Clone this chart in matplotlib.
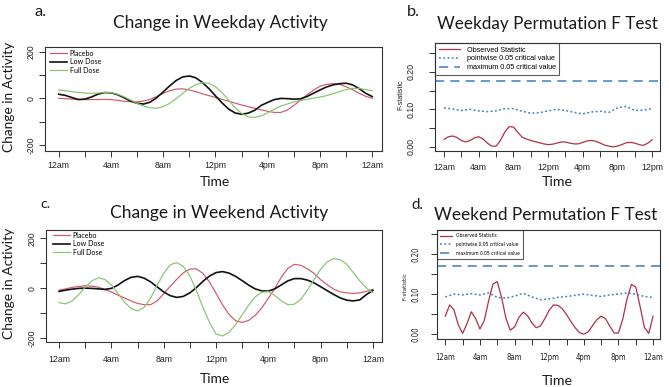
import matplotlib
matplotlib.use("Agg")
import matplotlib.pyplot as plt
from matplotlib import font_manager as fm

# ---------------- data ----------------
hours = list(range(25))
hours_half = [i * 0.5 for i in range(49)]
tick_hours = list(range(0, 25, 2))
labels_act = ["12am", "", "4am", "", "8am", "", "12pm", "", "4pm", "", "8pm", "", "12am"]
labels_b = ["12am", "", "4am", "", "8am", "", "12pm", "", "4pm", "", "8pm", "", "12pm"]
labels_d = ["12am", "", "4am", "", "8am", "", "12pm", "", "4pm", "", "8pm", "", "12am"]

series_names = ["Placebo", "Low Dose", "Full Dose"]
weekday_placebo = [0, -1, -3, -4, -5, -5, -5, -4, -5, -8,
                   -12, -14, -15, -11, -4, 8, 22, 33, 40, 41,
                   36, 29, 20, 12, 4, -4, -12, -20, -28, -35,
                   -42, -49, -55, -60, -60, -50, -30, -8, 15, 35,
                   52, 60, 63, 60, 50, 37, 22, 9, 0]
weekday_low = [18, 13, 4, -5, -3, 6, 18, 25, 24, 16,
               3, -11, -21, -24, -16, 3, 28, 54, 77, 92,
               96, 88, 68, 42, 11, -19, -45, -62, -68, -63,
               -51, -30, -17, -5, 0, -1, -3, -2, 8, 22,
               36, 49, 58, 63, 65, 58, 42, 22, 8]
weekday_full = [36, 33, 29, 25, 23, 22, 23, 25, 25, 18,
                7, -7, -21, -33, -40, -42, -35, -21, -1, 22,
                43, 59, 67, 65, 50, 25, -7, -39, -64, -79,
                -81, -75, -62, -46, -33, -24, -15, -9, -4, 1,
                6, 12, 20, 29, 38, 43, 43, 38, 33]

weekend_placebo = [-7, -2, 4, 8, 10, 9, 5, -5, -14, -27,
                   -38, -50, -60, -65, -65, -50, -22, 8, 36, 62,
                   77, 78, 60, 26, -19, -65, -104, -129, -136, -128,
                   -108, -78, -40, 0, 45, 80, 96, 92, 78, 60,
                   35, 15, -3, -14, -18, -20, -18, -12, -4]
weekend_low = [-12, -7, -3, 0, 1, 0, -2, -4, 0, 13,
               31, 44, 48, 41, 26, 6, -14, -29, -36, -32,
               -18, 3, 28, 49, 63, 67, 61, 48, 31, 13,
               -2, -10, -11, -2, 14, 30, 39, 39, 33, 22,
               7, -9, -24, -38, -47, -50, -46, -25, -8]
weekend_full = [-57, -62, -50, -25, 5, 30, 42, 36, 13, -20,
                -55, -80, -90, -76, -39, 12, 60, 94, 103, 88,
                50, -8, -75, -135, -182, -190, -175, -145, -106, -67,
                -34, -15, -13, -28, -50, -65, -63, -43, -7, 35,
                76, 106, 119, 114, 97, 63, 30, 2, -18]

weekday_observed = [0.020, 0.027, 0.029, 0.025, 0.017, 0.013, 0.017, 0.024, 0.027, 0.021,
                    0.010, 0.002, 0.002, 0.017, 0.039, 0.054, 0.053, 0.039, 0.026, 0.021,
                    0.017, 0.014, 0.011, 0.008, 0.006, 0.007, 0.010, 0.013, 0.013, 0.010,
                    0.008, 0.008, 0.012, 0.016, 0.017, 0.015, 0.010, 0.005, 0.002, 0.000,
                    0.002, 0.006, 0.011, 0.012, 0.010, 0.006, 0.004, 0.010, 0.019]
weekday_pointwise = [0.104, 0.101, 0.097, 0.100, 0.096, 0.094, 0.096, 0.102, 0.102, 0.095,
                     0.090, 0.091, 0.096, 0.100, 0.097, 0.092, 0.088, 0.093, 0.095, 0.092,
                     0.104, 0.108, 0.097, 0.098, 0.102]
weekday_max_crit = 0.176

weekend_observed = [0.045, 0.073, 0.061, 0.023, 0.002, 0.026, 0.056, 0.039, 0.013, 0.034,
                    0.083, 0.125, 0.131, 0.092, 0.040, 0.010, 0.018, 0.042, 0.055, 0.046,
                    0.028, 0.016, 0.021, 0.039, 0.060, 0.073, 0.072, 0.064, 0.049, 0.032,
                    0.016, 0.004, 0.000, 0.006, 0.021, 0.036, 0.045, 0.039, 0.020, 0.003,
                    0.003, 0.038, 0.089, 0.124, 0.118, 0.069, 0.017, 0.002, 0.045]
weekend_pointwise = [0.093, 0.100, 0.098, 0.101, 0.098, 0.103, 0.092, 0.090, 0.095, 0.102,
                     0.093, 0.086, 0.088, 0.092, 0.094, 0.097, 0.100, 0.097, 0.094, 0.098,
                     0.100, 0.103, 0.100, 0.094, 0.092]
weekend_max_crit = 0.170

f_legend = ["Observed Statistic", "pointwise 0.05 critical value", "maximum 0.05 critical value"]

# ---------------- style ----------------
W, H, DPI = 669, 387, 100
C_PLA = "#D0576B"
C_LOW = "#111111"
C_FULL = "#86C46E"
C_OBS = "#B03048"
C_BLUE = "#3C7DC4"
C_AX = "#333333"
TITLE_FONT = "Lato"
TICK_FONT = "Liberation Sans"


def find_narrow():
    for fam, stretch in [("Liberation Sans Narrow", "normal"), ("DejaVu Sans", "condensed")]:
        try:
            p = fm.findfont(fm.FontProperties(family=fam, stretch=stretch),
                            fallback_to_default=False)
            if "Narrow" in p or "Condensed" in p:
                return fm.FontProperties(fname=p), True
        except Exception:
            pass
    return fm.FontProperties(family=TICK_FONT), False


NARROW_PROP, HAVE_NARROW = find_narrow()

fig = plt.figure(figsize=(W / DPI, H / DPI), dpi=DPI)
fig.patch.set_facecolor("white")
renderer = fig.canvas.get_renderer()


def fx(x):
    return x / W


def fy(y):
    return 1 - y / H


def rect(l, t, r, b):
    return [fx(l), fy(b), (r - l) / W, (b - t) / H]


def measure(s, prop, size):
    p = prop.copy()
    p.set_size(size)
    t = fig.text(0, 0, s, fontproperties=p)
    w = t.get_window_extent(renderer=renderer).width
    t.remove()
    return w


def size_for(s, prop, target):
    return 10.0 * target / measure(s, prop, 10.0)


def fit_text(x, y, s, target, prop, rotation=0, color="#1a1a1a"):
    size = size_for(s, prop, target)
    p = prop.copy()
    p.set_size(size)
    fig.text(fx(x), fy(y), s, fontproperties=p, ha="center", va="center",
             rotation=rotation, color=color)


P_TITLE = fm.FontProperties(family=TITLE_FONT)
P_TICK = fm.FontProperties(family=TICK_FONT)


def style(ax, xlim, ylim, xlabels, yticks, ylabels, prop, fsize, xpad, ypad):
    p = prop.copy()
    p.set_size(fsize)
    ax.set_xlim(*xlim)
    ax.set_ylim(*ylim)
    ax.set_xticks(tick_hours)
    ax.set_xticklabels(xlabels, fontproperties=p, color="#222222")
    ax.set_yticks(yticks)
    ax.set_yticklabels(ylabels, fontproperties=p, color="#222222")
    for lb in ax.get_yticklabels():
        lb.set_rotation(90)
        lb.set_va("center")
        lb.set_ha("right")
    ax.tick_params(axis="x", direction="out", length=4, width=0.7, color=C_AX, pad=xpad)
    ax.tick_params(axis="y", direction="out", length=4, width=0.7, color=C_AX, pad=ypad)
    for sp in ax.spines.values():
        sp.set_color(C_AX)
        sp.set_linewidth(0.8)


leg_size_ac = size_for("Placebo", P_TITLE, 25)


def activity_legend(ax, x, y):
    p = P_TITLE.copy()
    p.set_size(leg_size_ac)
    ax.legend(loc="upper left", bbox_to_anchor=(fx(x), fy(y)), bbox_transform=fig.transFigure,
              frameon=False, prop=p, handlelength=2.3, handletextpad=0.45,
              labelspacing=0.2, borderpad=0, borderaxespad=0)


# ---------------- panel a ----------------
ax_a = fig.add_axes(rect(45, 47, 382, 151))
ax_a.plot(hours_half, weekday_placebo, color=C_PLA, lw=0.85, label=series_names[0])
ax_a.plot(hours_half, weekday_low, color=C_LOW, lw=1.2, label=series_names[1])
ax_a.plot(hours_half, weekday_full, color=C_FULL, lw=0.85, label=series_names[2])
style(ax_a, (-1.05, 24.75), (-225, 220), labels_act, [-200, -100, 0, 100, 200],
      ["-200", "", "0", "", "200"], P_TICK, 6.3, 3.5, 3)
activity_legend(ax_a, 50, 50)

# ---------------- panel c ----------------
ax_c = fig.add_axes(rect(46, 230, 382, 342))
ax_c.plot(hours_half, weekend_placebo, color=C_PLA, lw=0.85, label=series_names[0])
ax_c.plot(hours_half, weekend_low, color=C_LOW, lw=1.2, label=series_names[1])
ax_c.plot(hours_half, weekend_full, color=C_FULL, lw=0.85, label=series_names[2])
style(ax_c, (-1.0, 24.7), (-214, 233), labels_act, [-200, -100, 0, 100, 200],
      ["-200", "", "0", "", "200"], P_TICK, 6.3, 5.5, 3)
activity_legend(ax_c, 53, 232)

# ---------------- panel b ----------------
ax_b = fig.add_axes(rect(435, 43, 660, 151))
ax_b.plot(hours_half, weekday_observed, color=C_OBS, lw=0.9, label=f_legend[0])
ax_b.plot(hours, weekday_pointwise, color=C_BLUE, lw=1.1, ls=(0, (1.2, 1.6)), label=f_legend[1])
ax_b.axhline(weekday_max_crit, color=C_BLUE, lw=1.1, ls=(0, (6, 4)), label=f_legend[2])
style(ax_b, (-1.04, 24.9), (-0.011, 0.277), labels_b, [0, 0.05, 0.10, 0.15, 0.20, 0.25],
      ["0.00", "", "0.10", "", "0.20", ""], P_TICK, 6.3, 4.5, 10)
pb = P_TICK.copy()
pb.set_size(size_for("pointwise 0.05 critical value", P_TICK, 88))
lg = ax_b.legend(loc="upper left", bbox_to_anchor=(0, 1), frameon=True, fancybox=False,
                 prop=pb, handlelength=3.0, handletextpad=0.9,
                 labelspacing=0.25, borderpad=0.5, borderaxespad=0, edgecolor=C_AX,
                 facecolor="none")
lg.get_frame().set_linewidth(0.8)

# ---------------- panel d ----------------
ax_d = fig.add_axes(rect(437, 230, 660, 339))
ax_d.plot(hours_half, weekend_observed, color=C_OBS, lw=0.9, label=f_legend[0])
ax_d.plot(hours, weekend_pointwise, color=C_BLUE, lw=1.1, ls=(0, (1.2, 1.6)), label=f_legend[1])
ax_d.axhline(weekend_max_crit, color=C_BLUE, lw=1.1, ls=(0, (6, 4)), label=f_legend[2])
d_tick_size = size_for("12am", NARROW_PROP, 20) if HAVE_NARROW else 6.3
style(ax_d, (-0.96, 24.8), (-0.012, 0.26), labels_d, [0, 0.05, 0.10, 0.15, 0.20, 0.25],
      ["0.00", "", "0.10", "", "0.20", ""], NARROW_PROP, d_tick_size, 6, 8)
pd_ = NARROW_PROP.copy()
pd_.set_size(size_for("pointwise 0.05 critical value", NARROW_PROP, 63 if HAVE_NARROW else 70))
lg = ax_d.legend(loc="upper left", bbox_to_anchor=(0, 1), frameon=True, fancybox=False,
                 prop=pd_, handlelength=2.3, handletextpad=0.8,
                 labelspacing=0.75, borderpad=0.7, borderaxespad=0, edgecolor=C_AX,
                 facecolor="none")
lg.get_frame().set_linewidth(0.8)

# ---------------- titles / labels ----------------
fit_text(41, 12, "a.", 12, P_TITLE)
fit_text(413, 12, "b.", 13, P_TITLE)
fit_text(45, 204, "c.", 10, P_TITLE)
fit_text(417, 205, "d.", 12, P_TITLE)
fit_text(220, 23, "Change in Weekday Activity", 215, P_TITLE)
fit_text(547, 24, "Weekday Permutation F Test", 221, P_TITLE)
fit_text(219, 213, "Change in Weekend Activity", 218, P_TITLE)
fit_text(546, 215, "Weekend Permutation F Test", 223, P_TITLE)
fit_text(215, 182, "Time", 30, P_TITLE)
fit_text(557, 182, "Time", 31, P_TITLE)
fit_text(215, 379, "Time", 30, P_TITLE)
fit_text(557, 381, "Time", 31, P_TITLE)
fit_text(9, 97, "Change in Activity", 110, P_TITLE, rotation=90)
fit_text(9, 283, "Change in Activity", 111, P_TITLE, rotation=90)
fit_text(401, 95, "F-statistic", 30, P_TICK, rotation=90)
fit_text(405, 286, "F-statistic", 28 if HAVE_NARROW else 31, NARROW_PROP, rotation=90)

fig.savefig("out.png", dpi=DPI, facecolor="white")
